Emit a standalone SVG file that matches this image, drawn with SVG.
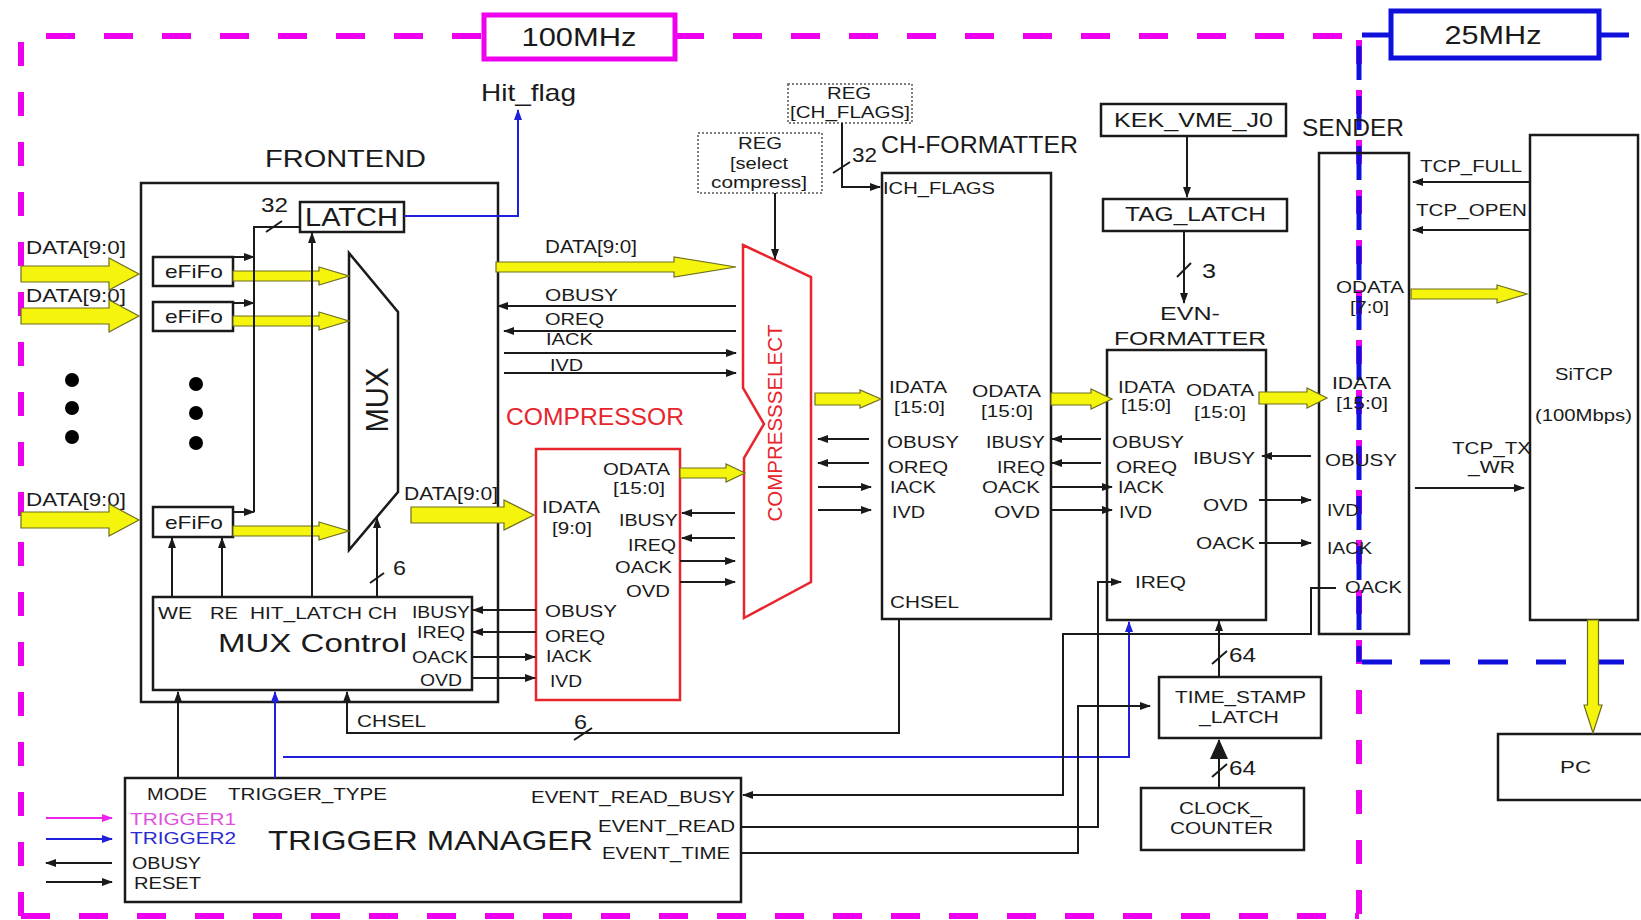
<svg xmlns="http://www.w3.org/2000/svg" width="1641" height="920" viewBox="0 0 1641 920">
<style>
text{font-family:"Liberation Sans",Arial,sans-serif;fill:#1a1a1a}
.s17{font-size:17px}.s18{font-size:18px}.s19{font-size:19px}.s21{font-size:21px}.s24{font-size:24px}
.box{fill:none;stroke:#1a1a1a;stroke-width:2.5}
.wbox{fill:#fff;stroke:#1a1a1a;stroke-width:2.5}
.red{fill:none;stroke:#e8242c;stroke-width:2.5}
.reg{fill:none;stroke:#555;stroke-width:1.5;stroke-dasharray:2 2}
.ln{fill:none;stroke:#1a1a1a;stroke-width:2}
.la{fill:none;stroke:#1a1a1a;stroke-width:2;marker-end:url(#ah)}
.bl{fill:none;stroke:#1f1fdd;stroke-width:2;marker-end:url(#ahb)}
.mg{fill:none;stroke:#ee22ee;stroke-width:2;marker-end:url(#ahm)}
.y{fill:#f4f40c;stroke:#6e6e20;stroke-width:1.2}
.mdh{fill:none;stroke:#ee00ee;stroke-width:6;stroke-dasharray:29 29}
.mdv{fill:none;stroke:#ee00ee;stroke-width:6;stroke-dasharray:24 26}
.bdh{fill:none;stroke:#1010dd;stroke-width:5;stroke-dasharray:30 28}
.bdv{fill:none;stroke:#1010dd;stroke-width:5;stroke-dasharray:34 16}
.rt{fill:#e8242c}
</style>
<defs>
<marker id="ah" markerUnits="userSpaceOnUse" markerWidth="11" markerHeight="9" refX="10" refY="4.5" orient="auto"><path d="M0,0.5 L11,4.5 L0,8.5 Z" fill="#1a1a1a"/></marker>
<marker id="ahb" markerUnits="userSpaceOnUse" markerWidth="11" markerHeight="9" refX="10" refY="4.5" orient="auto"><path d="M0,0.5 L11,4.5 L0,8.5 Z" fill="#1f1fdd"/></marker>
<marker id="ahm" markerUnits="userSpaceOnUse" markerWidth="11" markerHeight="9" refX="10" refY="4.5" orient="auto"><path d="M0,0.5 L11,4.5 L0,8.5 Z" fill="#ee22ee"/></marker>
<marker id="ahbig" markerUnits="userSpaceOnUse" markerWidth="20" markerHeight="18" refX="19" refY="9" orient="auto"><path d="M0,0 L20,9 L0,18 Z" fill="#1a1a1a"/></marker>
</defs>
<rect width="1641" height="920" fill="#fff"/>

<g id="clock-domains">
<path class="mdh" d="M46,36 H484 M675,36 H1360 M21,916 H1359"/>
<path class="mdv" d="M21,42 V916 M1359,40 V916"/>
<path class="bdh" d="M1362,35 H1391 M1599,35 H1641 M1362,662 H1641"/>
<path class="bdv" d="M1359,46 V662"/>
<rect x="484" y="15" width="191" height="44" fill="#fff" stroke="#ee00ee" stroke-width="5"/>
<text x="579" y="46" font-size="26" text-anchor="middle" textLength="115" lengthAdjust="spacingAndGlyphs">100MHz</text>
<rect x="1391" y="11" width="208" height="47" fill="#fff" stroke="#1010dd" stroke-width="5"/>
<text x="1493" y="44" font-size="26" text-anchor="middle" textLength="97" lengthAdjust="spacingAndGlyphs">25MHz</text>
</g>

<g id="frontend">
<rect class="box" x="141" y="183" width="357" height="519" stroke-width="3"/>
<text class="s24" x="265" y="167" textLength="161" lengthAdjust="spacingAndGlyphs">FRONTEND</text>
<text class="s21" x="261" y="212" textLength="27" lengthAdjust="spacingAndGlyphs">32</text>
<circle cx="196" cy="384" r="7"/><circle cx="196" cy="413" r="7"/><circle cx="196" cy="443" r="7"/>
</g>
<g id="latch">
<rect class="box" x="300" y="202" width="104" height="30"/>
<text x="305" y="226" font-size="25" textLength="93" lengthAdjust="spacingAndGlyphs">LATCH</text>
</g>
<g id="hit-flag"><text class="s24" x="481" y="101" textLength="95" lengthAdjust="spacingAndGlyphs">Hit_flag</text></g>
<g id="efifo1"><rect class="box" x="153" y="257" width="80" height="29"/><text class="s19" x="165" y="278" textLength="58" lengthAdjust="spacingAndGlyphs">eFiFo</text></g>
<g id="efifo2"><rect class="box" x="153" y="302" width="80" height="29"/><text class="s19" x="165" y="323" textLength="58" lengthAdjust="spacingAndGlyphs">eFiFo</text></g>
<g id="efifo3"><rect class="box" x="153" y="507" width="80" height="30"/><text class="s19" x="165" y="529" textLength="58" lengthAdjust="spacingAndGlyphs">eFiFo</text></g>
<g id="mux">
<polygon class="box" points="349,253 398,312 398,492 349,550"/>
<text transform="translate(388,400) rotate(-90)" font-size="32" text-anchor="middle" textLength="65" lengthAdjust="spacingAndGlyphs">MUX</text>
</g>
<g id="mux-control">
<rect class="box" x="153" y="597" width="319" height="93"/>
<text x="218" y="652" font-size="26" textLength="189" lengthAdjust="spacingAndGlyphs">MUX Control</text>
<text class="s17" x="158" y="619" textLength="34" lengthAdjust="spacingAndGlyphs">WE</text>
<text class="s17" x="210" y="619" textLength="28" lengthAdjust="spacingAndGlyphs">RE</text>
<text class="s17" x="250" y="619" textLength="112" lengthAdjust="spacingAndGlyphs">HIT_LATCH</text>
<text class="s17" x="368" y="619" textLength="29" lengthAdjust="spacingAndGlyphs">CH</text>
<text class="s17" x="412" y="618" textLength="58" lengthAdjust="spacingAndGlyphs">IBUSY</text>
<text class="s17" x="417" y="638" textLength="48" lengthAdjust="spacingAndGlyphs">IREQ</text>
<text class="s17" x="412" y="663" textLength="56" lengthAdjust="spacingAndGlyphs">OACK</text>
<text class="s17" x="420" y="686" textLength="42" lengthAdjust="spacingAndGlyphs">OVD</text>
</g>
<g id="inputs">
<text class="s18" x="26" y="254" textLength="100" lengthAdjust="spacingAndGlyphs">DATA[9:0]</text>
<text class="s18" x="26" y="302" textLength="100" lengthAdjust="spacingAndGlyphs">DATA[9:0]</text>
<text class="s18" x="26" y="506" textLength="100" lengthAdjust="spacingAndGlyphs">DATA[9:0]</text>
<circle cx="72" cy="380" r="7"/><circle cx="72" cy="408" r="7"/><circle cx="72" cy="437" r="7"/>
</g>

<g id="compressor">
<text x="506" y="425" font-size="23" class="rt" textLength="178" lengthAdjust="spacingAndGlyphs">COMPRESSOR</text>
<rect class="red" x="536" y="449" width="144" height="251"/>
<text class="s17" x="603" y="475" textLength="67" lengthAdjust="spacingAndGlyphs">ODATA</text>
<text class="s17" x="613" y="494" textLength="52" lengthAdjust="spacingAndGlyphs">[15:0]</text>
<text class="s17" x="542" y="513" textLength="58" lengthAdjust="spacingAndGlyphs">IDATA</text>
<text class="s17" x="552" y="534" textLength="40" lengthAdjust="spacingAndGlyphs">[9:0]</text>
<text class="s17" x="619" y="526" textLength="59" lengthAdjust="spacingAndGlyphs">IBUSY</text>
<text class="s17" x="628" y="551" textLength="48" lengthAdjust="spacingAndGlyphs">IREQ</text>
<text class="s17" x="615" y="573" textLength="57" lengthAdjust="spacingAndGlyphs">OACK</text>
<text class="s17" x="626" y="597" textLength="44" lengthAdjust="spacingAndGlyphs">OVD</text>
<text class="s17" x="545" y="617" textLength="72" lengthAdjust="spacingAndGlyphs">OBUSY</text>
<text class="s17" x="545" y="642" textLength="60" lengthAdjust="spacingAndGlyphs">OREQ</text>
<text class="s17" x="546" y="662" textLength="46" lengthAdjust="spacingAndGlyphs">IACK</text>
<text class="s17" x="550" y="687" textLength="32" lengthAdjust="spacingAndGlyphs">IVD</text>
</g>
<g id="compressselect">
<polygon class="red" points="743,245 811,277 811,582 744,618 744,458 764,424 743,388"/>
<text transform="translate(782,423) rotate(-90)" font-size="21" class="rt" text-anchor="middle" textLength="197" lengthAdjust="spacingAndGlyphs">COMPRESSSELECT</text>
</g>
<g id="reg-select">
<rect class="reg" x="698" y="133" width="124" height="60"/>
<text class="s17" x="738" y="149" textLength="44" lengthAdjust="spacingAndGlyphs">REG</text>
<text class="s17" x="730" y="169" textLength="58" lengthAdjust="spacingAndGlyphs">[select</text>
<text class="s17" x="711" y="188" textLength="96" lengthAdjust="spacingAndGlyphs">compress]</text>
</g>
<g id="reg-chflags">
<rect class="reg" x="788" y="84" width="124" height="39"/>
<text class="s17" x="827" y="99" textLength="44" lengthAdjust="spacingAndGlyphs">REG</text>
<text class="s17" x="790" y="118" textLength="120" lengthAdjust="spacingAndGlyphs">[CH_FLAGS]</text>
</g>
<g id="ch-formatter">
<text class="s24" x="881" y="153" textLength="197" lengthAdjust="spacingAndGlyphs">CH-FORMATTER</text>
<rect class="box" x="882" y="173" width="169" height="446"/>
<text class="s17" x="883" y="194" textLength="112" lengthAdjust="spacingAndGlyphs">ICH_FLAGS</text>
<text class="s17" x="889" y="393" textLength="58" lengthAdjust="spacingAndGlyphs">IDATA</text>
<text class="s17" x="894" y="413" textLength="51" lengthAdjust="spacingAndGlyphs">[15:0]</text>
<text class="s17" x="972" y="397" textLength="69" lengthAdjust="spacingAndGlyphs">ODATA</text>
<text class="s17" x="981" y="417" textLength="52" lengthAdjust="spacingAndGlyphs">[15:0]</text>
<text class="s17" x="887" y="448" textLength="72" lengthAdjust="spacingAndGlyphs">OBUSY</text>
<text class="s17" x="888" y="473" textLength="60" lengthAdjust="spacingAndGlyphs">OREQ</text>
<text class="s17" x="890" y="493" textLength="46" lengthAdjust="spacingAndGlyphs">IACK</text>
<text class="s17" x="892" y="518" textLength="33" lengthAdjust="spacingAndGlyphs">IVD</text>
<text class="s17" x="986" y="448" textLength="59" lengthAdjust="spacingAndGlyphs">IBUSY</text>
<text class="s17" x="997" y="473" textLength="48" lengthAdjust="spacingAndGlyphs">IREQ</text>
<text class="s17" x="982" y="493" textLength="58" lengthAdjust="spacingAndGlyphs">OACK</text>
<text class="s17" x="994" y="518" textLength="46" lengthAdjust="spacingAndGlyphs">OVD</text>
<text class="s17" x="890" y="608" textLength="69" lengthAdjust="spacingAndGlyphs">CHSEL</text>
</g>
<g id="kek-vme-j0"><rect class="box" x="1101" y="104" width="185" height="32"/><text class="s21" x="1114" y="127" textLength="159" lengthAdjust="spacingAndGlyphs">KEK_VME_J0</text></g>
<g id="tag-latch"><rect class="box" x="1103" y="199" width="184" height="32"/><text class="s21" x="1125" y="221" textLength="141" lengthAdjust="spacingAndGlyphs">TAG_LATCH</text></g>
<g id="evn-formatter">
<text class="s19" x="1160" y="320" textLength="60" lengthAdjust="spacingAndGlyphs">EVN-</text>
<text class="s19" x="1114" y="345" textLength="152" lengthAdjust="spacingAndGlyphs">FORMATTER</text>
<rect class="box" x="1107" y="350" width="159" height="270"/>
<text class="s17" x="1118" y="393" textLength="57" lengthAdjust="spacingAndGlyphs">IDATA</text>
<text class="s17" x="1121" y="411" textLength="50" lengthAdjust="spacingAndGlyphs">[15:0]</text>
<text class="s17" x="1186" y="396" textLength="68" lengthAdjust="spacingAndGlyphs">ODATA</text>
<text class="s17" x="1194" y="418" textLength="52" lengthAdjust="spacingAndGlyphs">[15:0]</text>
<text class="s17" x="1112" y="448" textLength="72" lengthAdjust="spacingAndGlyphs">OBUSY</text>
<text class="s17" x="1116" y="473" textLength="61" lengthAdjust="spacingAndGlyphs">OREQ</text>
<text class="s17" x="1118" y="493" textLength="46" lengthAdjust="spacingAndGlyphs">IACK</text>
<text class="s17" x="1119" y="518" textLength="33" lengthAdjust="spacingAndGlyphs">IVD</text>
<text class="s17" x="1193" y="464" textLength="62" lengthAdjust="spacingAndGlyphs">IBUSY</text>
<text class="s17" x="1203" y="511" textLength="45" lengthAdjust="spacingAndGlyphs">OVD</text>
<text class="s17" x="1196" y="549" textLength="59" lengthAdjust="spacingAndGlyphs">OACK</text>
<text class="s17" x="1135" y="588" textLength="51" lengthAdjust="spacingAndGlyphs">IREQ</text>
</g>
<g id="sender">
<text class="s24" x="1302" y="136" textLength="102" lengthAdjust="spacingAndGlyphs">SENDER</text>
<rect class="box" x="1319" y="153" width="90" height="481"/>
<text class="s17" x="1336" y="293" textLength="68" lengthAdjust="spacingAndGlyphs">ODATA</text>
<text class="s17" x="1350" y="313" textLength="39" lengthAdjust="spacingAndGlyphs">[7:0]</text>
<text class="s17" x="1332" y="389" textLength="59" lengthAdjust="spacingAndGlyphs">IDATA</text>
<text class="s17" x="1336" y="409" textLength="52" lengthAdjust="spacingAndGlyphs">[15:0]</text>
<text class="s17" x="1325" y="466" textLength="72" lengthAdjust="spacingAndGlyphs">OBUSY</text>
<text class="s17" x="1327" y="516" textLength="32" lengthAdjust="spacingAndGlyphs">IVD</text>
<text class="s17" x="1327" y="554" textLength="45" lengthAdjust="spacingAndGlyphs">IACK</text>
<text class="s17" x="1345" y="593" textLength="57" lengthAdjust="spacingAndGlyphs">OACK</text>
</g>
<g id="sitcp">
<rect class="box" x="1530" y="135" width="108" height="485"/>
<text class="s17" x="1555" y="380" textLength="58" lengthAdjust="spacingAndGlyphs">SiTCP</text>
<text class="s17" x="1535" y="421" textLength="97" lengthAdjust="spacingAndGlyphs">(100Mbps)</text>
</g>
<g id="pc"><rect class="box" x="1498" y="734" width="150" height="66"/><text class="s17" x="1560" y="773" textLength="31" lengthAdjust="spacingAndGlyphs">PC</text></g>
<g id="time-stamp-latch">
<rect class="box" x="1159" y="677" width="162" height="61"/>
<text class="s17" x="1175" y="703" textLength="131" lengthAdjust="spacingAndGlyphs">TIME_STAMP</text>
<text class="s17" x="1199" y="723" textLength="80" lengthAdjust="spacingAndGlyphs">_LATCH</text>
</g>
<g id="clock-counter">
<rect class="box" x="1141" y="788" width="163" height="62"/>
<text class="s17" x="1179" y="814" textLength="83" lengthAdjust="spacingAndGlyphs">CLOCK_</text>
<text class="s17" x="1170" y="834" textLength="103" lengthAdjust="spacingAndGlyphs">COUNTER</text>
</g>
<g id="trigger-manager">
<rect class="box" x="125" y="778" width="616" height="124"/>
<text x="268" y="850" font-size="28" textLength="325" lengthAdjust="spacingAndGlyphs">TRIGGER MANAGER</text>
<text class="s17" x="147" y="800" textLength="60" lengthAdjust="spacingAndGlyphs">MODE</text>
<text class="s17" x="228" y="800" textLength="159" lengthAdjust="spacingAndGlyphs">TRIGGER_TYPE</text>
<text class="s17" x="130" y="825" textLength="106" lengthAdjust="spacingAndGlyphs" style="fill:#e050e0">TRIGGER1</text>
<text class="s17" x="130" y="844" textLength="106" lengthAdjust="spacingAndGlyphs" style="fill:#2a2ad0">TRIGGER2</text>
<text class="s17" x="132" y="869" textLength="69" lengthAdjust="spacingAndGlyphs">OBUSY</text>
<text class="s17" x="134" y="889" textLength="67" lengthAdjust="spacingAndGlyphs">RESET</text>
<text class="s17" x="531" y="803" textLength="204" lengthAdjust="spacingAndGlyphs">EVENT_READ_BUSY</text>
<text class="s17" x="598" y="832" textLength="137" lengthAdjust="spacingAndGlyphs">EVENT_READ</text>
<text class="s17" x="602" y="859" textLength="128" lengthAdjust="spacingAndGlyphs">EVENT_TIME</text>
</g>

<g id="connectors">
<path class="y" d="M21,266 H109 V258 L139,274 L109,290 V282 H21 Z"/>
<path class="y" d="M21,308 H109 V300 L139,316 L109,332 V324 H21 Z"/>
<path class="y" d="M21,512 H109 V504 L139,520 L109,536 V528 H21 Z"/>
<path class="y" d="M233,271 H319 V267 L349,276 L319,285 V281 H233 Z"/>
<path class="y" d="M233,316 H319 V312 L349,321 L319,330 V326 H233 Z"/>
<path class="y" d="M233,526 H319 V522 L349,531 L319,540 V536 H233 Z"/>
<path class="y" d="M496,262 H674 V257 L736,267 L674,277 V272 H496 Z"/>
<path class="y" d="M411,507 H504 V500 L534,515 L504,530 V523 H411 Z"/>
<path class="y" d="M680,468 H726 V464 L745,473 L726,482 V478 H680 Z"/>
<path class="y" d="M815,393 H860 V390 L881,399 L860,408 V405 H815 Z"/>
<path class="y" d="M1051,393 H1091 V389 L1112,399 L1091,409 V405 H1051 Z"/>
<path class="y" d="M1259,392 H1307 V388 L1327,398 L1307,408 V404 H1259 Z"/>
<path class="y" d="M1411,289 H1497 V285 L1527,294 L1497,303 V299 H1411 Z"/>
<path class="y" d="M1587.5,620 V705 H1584 L1593,733 L1602,705 H1598.5 V620 Z"/>

<path class="la" d="M234,257 H254"/>
<path class="la" d="M234,303 H254"/>
<path class="la" d="M234,512 H254"/>
<path class="ln" d="M254,512 V227 H300 M266,232 L282,221"/>
<path class="la" d="M312,597 V233"/>
<path class="la" d="M172,597 V538"/>
<path class="la" d="M222,597 V538"/>
<path class="la" d="M377,597 V518"/>
<path class="ln" d="M370,583 L384,573"/>
<text class="s21" x="393" y="575" textLength="13" lengthAdjust="spacingAndGlyphs">6</text>
<path class="bl" d="M404,216 H518 V110"/>

<text class="s18" x="545" y="253" textLength="92" lengthAdjust="spacingAndGlyphs">DATA[9:0]</text>
<text class="s17" x="545" y="301" textLength="73" lengthAdjust="spacingAndGlyphs">OBUSY</text>
<text class="s17" x="545" y="325" textLength="59" lengthAdjust="spacingAndGlyphs">OREQ</text>
<text class="s17" x="546" y="345" textLength="47" lengthAdjust="spacingAndGlyphs">IACK</text>
<text class="s17" x="550" y="371" textLength="33" lengthAdjust="spacingAndGlyphs">IVD</text>
<path class="la" d="M736,306 H498"/>
<path class="la" d="M736,331 H504"/>
<path class="la" d="M504,353 H736"/>
<path class="la" d="M504,373 H736"/>
<text class="s18" x="404" y="500" textLength="94" lengthAdjust="spacingAndGlyphs">DATA[9:0]</text>

<path class="la" d="M735,513 H682"/>
<path class="la" d="M735,538 H682"/>
<path class="la" d="M680,561 H735"/>
<path class="la" d="M680,582 H735"/>
<path class="la" d="M536,610 H473"/>
<path class="la" d="M536,632 H473"/>
<path class="la" d="M472,657 H535"/>
<path class="la" d="M472,678 H535"/>

<path class="la" d="M775,193 V259"/>
<path class="la" d="M842,123 V187 H880"/>
<path class="ln" d="M833,173 L850,162"/>
<text class="s21" x="852" y="162" textLength="25" lengthAdjust="spacingAndGlyphs">32</text>

<path class="la" d="M869,439 H818"/>
<path class="la" d="M869,463 H818"/>
<path class="la" d="M818,487 H871"/>
<path class="la" d="M818,510 H871"/>
<path class="la" d="M1101,439 H1052"/>
<path class="la" d="M1101,463 H1052"/>
<path class="la" d="M1051,487 H1112"/>
<path class="la" d="M1051,510 H1112"/>
<path class="la" d="M1311,456 H1262"/>
<path class="la" d="M1259,500 H1311"/>
<path class="la" d="M1259,543 H1311"/>

<path class="la" d="M1531,182 H1413"/>
<path class="la" d="M1531,230 H1413"/>
<path class="la" d="M1415,488 H1524"/>
<text class="s17" x="1420" y="172" textLength="102" lengthAdjust="spacingAndGlyphs">TCP_FULL</text>
<text class="s17" x="1416" y="216" textLength="111" lengthAdjust="spacingAndGlyphs">TCP_OPEN</text>
<text class="s17" x="1452" y="454" textLength="79" lengthAdjust="spacingAndGlyphs">TCP_TX</text>
<text class="s17" x="1468" y="473" textLength="47" lengthAdjust="spacingAndGlyphs">_WR</text>

<path class="la" d="M1187,136 V197"/>
<path class="la" d="M1184,231 V303"/>
<path class="ln" d="M1177,277 L1191,263"/>
<text class="s21" x="1202" y="278" textLength="14" lengthAdjust="spacingAndGlyphs">3</text>

<path class="la" d="M1219,677 V621"/>
<path class="ln" d="M1212,664 L1227,651"/>
<text class="s21" x="1229" y="662" textLength="27" lengthAdjust="spacingAndGlyphs">64</text>
<path class="ln" d="M1219,788 V740" style="marker-end:url(#ahbig)"/>
<path class="ln" d="M1212,777 L1227,764"/>
<text class="s21" x="1229" y="775" textLength="27" lengthAdjust="spacingAndGlyphs">64</text>

<path class="la" d="M899,619 V733 H347 V692"/>
<path class="ln" d="M574,740 L592,728"/>
<text class="s17" x="357" y="727" textLength="69" lengthAdjust="spacingAndGlyphs">CHSEL</text>
<text class="s21" x="574" y="729" textLength="13" lengthAdjust="spacingAndGlyphs">6</text>
<path class="la" d="M178,778 V692"/>
<path class="bl" d="M275,778 V692"/>
<path class="bl" d="M283,757 H1129 V622"/>

<path class="la" d="M1336,588 H1311 V634 H1063 V795 H743"/>
<path class="la" d="M741,827 H1098 V582 H1121"/>
<path class="la" d="M741,853 H1078 V706 H1150"/>

<path class="mg" d="M46,818 H112"/>
<path class="bl" d="M46,839 H112"/>
<path class="la" d="M112,863 H46"/>
<path class="la" d="M46,882 H112"/>
</g>
</svg>
